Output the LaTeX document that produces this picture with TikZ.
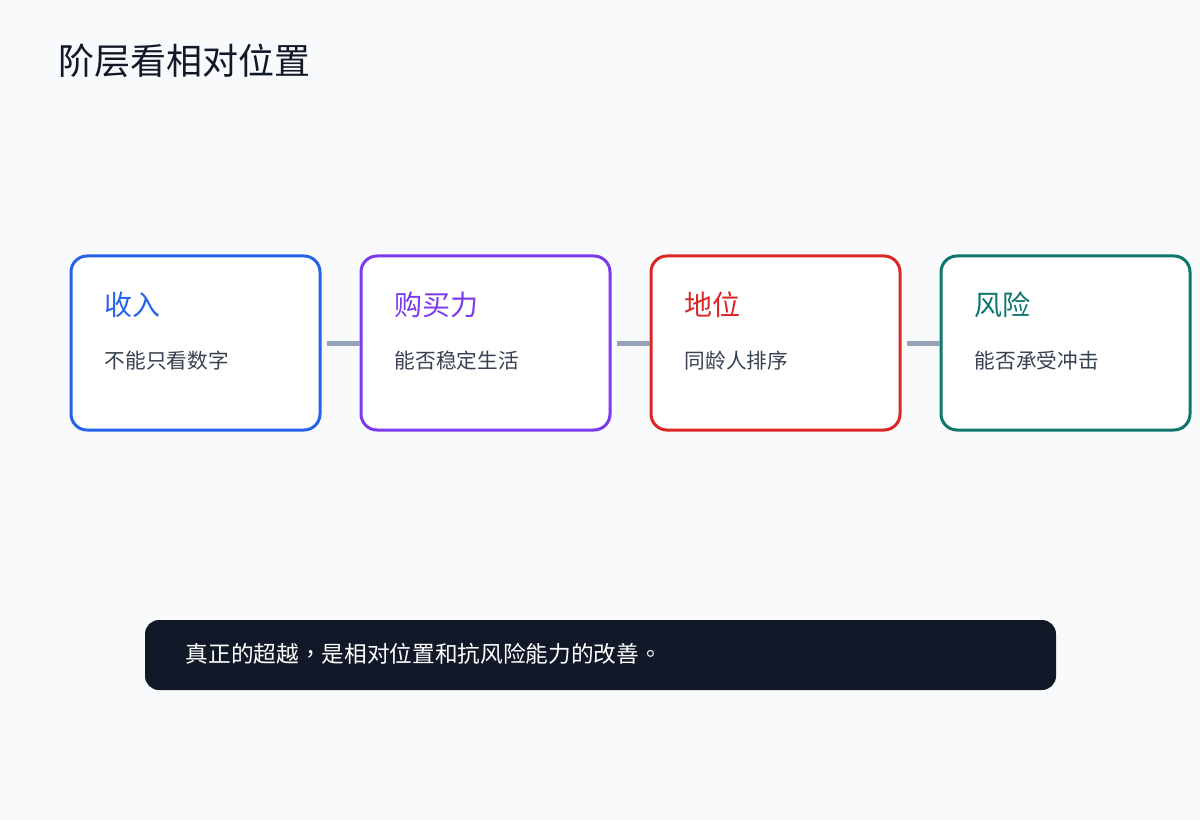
\documentclass[tikz,border=0pt]{standalone}
\usepackage{fontspec}
\setmainfont{Noto Sans CJK SC}
\newfontfamily\notefont{Noto Sans CJK TC}
\usepackage{xcolor}
\usepackage{tikz}
\usetikzlibrary{positioning}

\definecolor{pagebg}{HTML}{F8FAFC}
\definecolor{inkdark}{HTML}{111827}
\definecolor{inksub}{HTML}{374151}
\definecolor{linkgray}{HTML}{94A3B8}
\definecolor{cblue}{HTML}{2563EB}
\definecolor{cpurple}{HTML}{7C3AED}
\definecolor{cred}{HTML}{DC2626}
\definecolor{cteal}{HTML}{0F766E}

\begin{document}
\begin{tikzpicture}[x=0.75pt, y=-0.75pt,
  card/.style={draw, line width=2.25pt, rounded corners=12pt, fill=white,
    minimum width=186.75pt, minimum height=130.5pt, inner sep=0pt},
  link/.style={draw=linkgray, line width=3.75pt},
  lbl/.style={anchor=base west, inner sep=0pt}]
% page
\fill[pagebg] (0,0) rectangle (1200,820);
\useasboundingbox (0,0) rectangle (1200,820);
% title
\node[lbl, text=inkdark, font=\fontsize{27pt}{32pt}\selectfont] (title) at (58,75) {阶层看相对位置};
% the four cards
\foreach \i/\x/\col/\head/\sub in {1/71/cblue/收入/不能只看数字,
    2/361/cpurple/购买力/能否稳定生活,
    3/651/cred/地位/同龄人排序,
    4/941/cteal/风险/能否承受冲击}{
  \node[card, draw=\col] (c\i) at (\x+124.5,343) {};
  \node[lbl, text=\col, font=\fontsize{21pt}{25pt}\selectfont] (h\i) at (\x+33.5,315) {\head};
  \node[lbl, text=inksub, font=\fontsize{15.5pt}{19pt}\selectfont] (s\i) at (\x+33.5,368) {\sub};
}
% links between cards
\foreach \i/\j in {1/2,2/3,3/4}{
  \draw[link] ([xshift=3.75pt]c\i.east) -- (c\j.west);
}
% bottom note
\node[fill=inkdark, rounded corners=10.5pt, minimum width=683.25pt, minimum height=52.5pt, inner sep=0pt] (note) at (600.5,655) {};
\node[lbl, text=white, font=\notefont\fontsize{17pt}{20pt}\selectfont] (notetext) at (185.5,662) {真正的超越，是相对位置和抗风险能力的改善。};
\end{tikzpicture}
\end{document}
